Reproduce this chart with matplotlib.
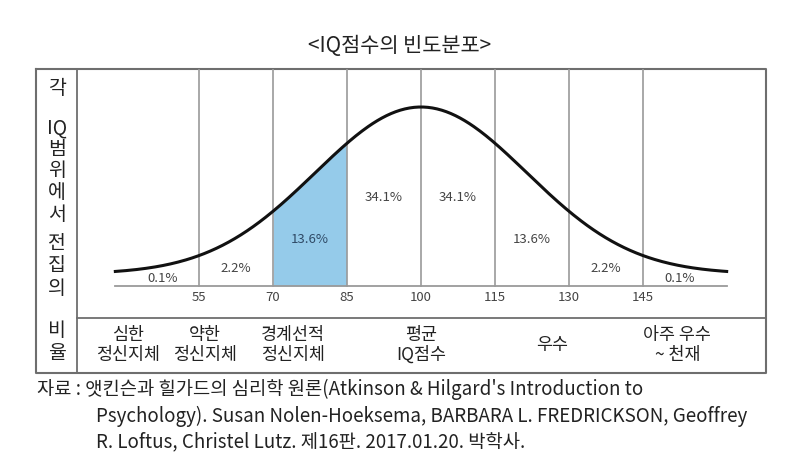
import numpy as np
import matplotlib
matplotlib.use('Agg')
import matplotlib.pyplot as plt
from matplotlib.transforms import blended_transform_factory

plt.rcParams['font.family'] = ['Noto Sans CJK KR', 'DejaVu Sans']

# 데이터
iq_mean = 100
iq_sd = 15
iq_cuts = [55, 70, 85, 100, 115, 130, 145]
band_edges = [40, 55, 70, 85, 100, 115, 130, 145, 160]
pct_labels = ['0.1%', '2.2%', '13.6%', '34.1%', '34.1%', '13.6%', '2.2%', '0.1%']
highlight = (70, 85)
categories = ['심한\n정신지체', '약한\n정신지체', '경계선적\n정신지체', '평균\nIQ점수', '우수', '아주 우수\n~ 천재']
side_label = ['각', 'IQ', '범', '위', '에', '서', '전', '집', '의']
side_label2 = ['비', '율']
title = '<IQ점수의 빈도분포>'
source = ["자료 : 앳킨슨과 힐가드의 심리학 원론(Atkinson & Hilgard's Introduction to",
          "Psychology). Susan Nolen-Hoeksema, BARBARA L. FREDRICKSON, Geoffrey",
          "R. Loftus, Christel Lutz. 제16판. 2017.01.20. 박학사."]

# 배치 (픽셀)
W, H = 800, 467
box_l, box_t, box_r, box_b = 36, 69, 766, 373
col_x = 77
row_y = 318
curve_range = (38, 162)
width_factor = 1.43  # 그림의 곡선 폭
floor = 0.067
pct_y = [0.04, 0.095, 0.257, 0.497, 0.497, 0.257, 0.095, 0.04]
cat_x = [40.6, 56.2, 74, 100, 126.6, 152]
side_y = [88, 128, 150, 171, 192, 214, 244, 266, 288]
side_y2 = [331, 353]

fig = plt.figure(figsize=(8, 4.67), dpi=100)

# 표 틀
fax = fig.add_axes([0, 0, 1, 1])
fax.set_xlim(0, W)
fax.set_ylim(H, 0)
fax.axis('off')
lc = '#6e6e6e'
fax.plot([box_l, box_r, box_r, box_l, box_l], [box_t, box_t, box_b, box_b, box_t], color=lc, lw=1.5)
fax.plot([col_x, col_x], [box_t, box_b], color=lc, lw=1.3)
fax.plot([col_x, box_r], [row_y, row_y], color=lc, lw=1.3)

fax.text(400, 46, title, ha='center', va='center', fontsize=15, color='#222222')
for s, y in zip(side_label, side_y):
    fax.text(57, y, s, ha='center', va='center', fontsize=14, color='#222222')
for s, y in zip(side_label2, side_y2):
    fax.text(57, y, s, ha='center', va='center', fontsize=14, color='#222222')

fax.text(37, 389, source[0], ha='left', va='center', fontsize=13.5, color='#222222')
fax.text(96, 416, source[1], ha='left', va='center', fontsize=13.5, color='#222222')
fax.text(96, 442, source[2], ha='left', va='center', fontsize=13.5, color='#222222')

# 분포 그래프
ax = fig.add_axes([col_x / W, 1 - row_y / H, (box_r - col_x) / W, (row_y - box_t) / H])
ax.patch.set_alpha(0)
ax.set_xlim(100 - (421 - col_x) / 4.93, 100 + (box_r - 421) / 4.93)
ax.set_ylim(-(row_y - 286) / 179, (286 - box_t) / 179)
ax.axis('off')

x = np.linspace(curve_range[0], curve_range[1], 400)
y = floor + (1 - floor) * np.exp(-0.5 * ((x - iq_mean) / (iq_sd * width_factor)) ** 2)

mask = (x >= highlight[0]) & (x <= highlight[1])
ax.fill_between(x[mask], 0, y[mask], color='#95cbea', lw=0, zorder=1)

top = ax.get_ylim()[1]
for c in iq_cuts:
    ax.plot([c, c], [0, top], color='#9a9a9a', lw=1.2, zorder=2)
    ax.text(c, -0.062, str(c), ha='center', va='center', fontsize=9.5, color='#444444')

ax.plot(curve_range, [0, 0], color='#9a9a9a', lw=1.3, zorder=2)
ax.plot(x, y, color='#111111', lw=2.2, zorder=3)

for i, lab in enumerate(pct_labels):
    xm = (band_edges[i] + band_edges[i + 1]) / 2
    col = '#2f4a66' if highlight[0] <= xm <= highlight[1] else '#444444'
    ax.text(xm, pct_y[i], lab, ha='center', va='center', fontsize=9.5, color=col)

# 분류 이름
tr = blended_transform_factory(ax.transData, fax.transData)
for name, cx in zip(categories, cat_x):
    fig.text(cx, 345, name, transform=tr, ha='center', va='center',
             fontsize=12.5, color='#222222', linespacing=1.1)

fig.savefig('out.png', dpi=100)
